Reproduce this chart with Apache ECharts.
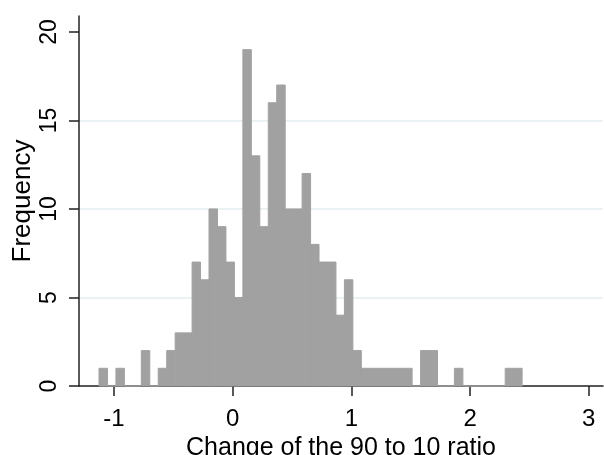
<!DOCTYPE html>
<html>
<head>
<meta charset="utf-8">
<script src="https://cdn.jsdelivr.net/npm/echarts@6/dist/echarts.min.js"></script>
<style>
html,body{margin:0;padding:0;background:#fff;}
#chart{width:604px;height:455px;}
</style>
</head>
<body>
<div id="chart"></div>
<script>
// Histogram data: 50 bins
const binStart = -1.1264;
const binWidth = 0.0713;
const counts = [1,0,1,0,0,2,0,1,2,3, 3,7,6,10,9,7,5,19,13,9, 16,17,10,10,12,8,7,7,4,6, 2,1,1,1,1,1,1,0,2,2, 0,0,1,0,0,0,0,0,1,1];
const xTicks = [-1, 0, 1, 2, 3];
const yTicks = [0, 5, 10, 15, 20];
const xTitle = 'Change of the 90 to 10 ratio';
const yTitle = 'Frequency';

const data = counts.map((c, i) => [binStart + i * binWidth, binStart + (i + 1) * binWidth, c]);

const chart = echarts.init(document.getElementById('chart'), null, {renderer: 'canvas'});
const font = 'Liberation Sans, Arial, sans-serif';
chart.setOption({
  animation: false,
  backgroundColor: '#ffffff',
  grid: {left: 79, right: 1, top: 16, bottom: 69, containLabel: false, outerBoundsMode: 'none'},
  xAxis: {
    type: 'value', min: -1.295, max: 3.12,
    name: xTitle, nameLocation: 'middle', nameGap: 50, nameMoveOverlap: false,
    nameTextStyle: {fontFamily: font, fontSize: 25, color: '#000'},
    axisLine: {show: true, onZero: false, lineStyle: {color: '#222', width: 1.5}},
    axisTick: {show: true, length: 10, customValues: xTicks, lineStyle: {color: '#222', width: 1.5}},
    axisLabel: {customValues: xTicks, fontFamily: font, fontSize: 24, color: '#000', margin: 21},
    splitLine: {show: false}
  },
  yAxis: {
    type: 'value', min: 0, max: 20.9, interval: 5,
    name: yTitle, nameLocation: 'middle', nameGap: 43, nameMoveOverlap: false,
    nameTextStyle: {fontFamily: font, fontSize: 26, color: '#000'},
    axisLine: {show: true, onZero: false, lineStyle: {color: '#222', width: 1.5}},
    axisTick: {show: true, length: 10, customValues: yTicks, lineStyle: {color: '#222', width: 1.5}},
    axisLabel: {customValues: yTicks, rotate: 90, fontFamily: font, fontSize: 23, color: '#000', margin: 18},
    splitLine: {show: true, showMinLine: false, showMaxLine: false, lineStyle: {color: '#eaf2f3', width: 2}}
  },
  series: [{
    type: 'custom',
    data: data,
    encode: {x: [0, 1], y: 2},
    renderItem: function (params, api) {
      const p0 = api.coord([api.value(0), api.value(2)]);
      const p1 = api.coord([api.value(1), 0]);
      return {
        type: 'rect',
        shape: {x: p0[0], y: p0[1], width: p1[0] - p0[0], height: p1[1] - p0[1]},
        style: {fill: '#a1a1a1', stroke: '#a1a1a1', lineWidth: 1}
      };
    }
  }]
});
</script>
</body>
</html>
